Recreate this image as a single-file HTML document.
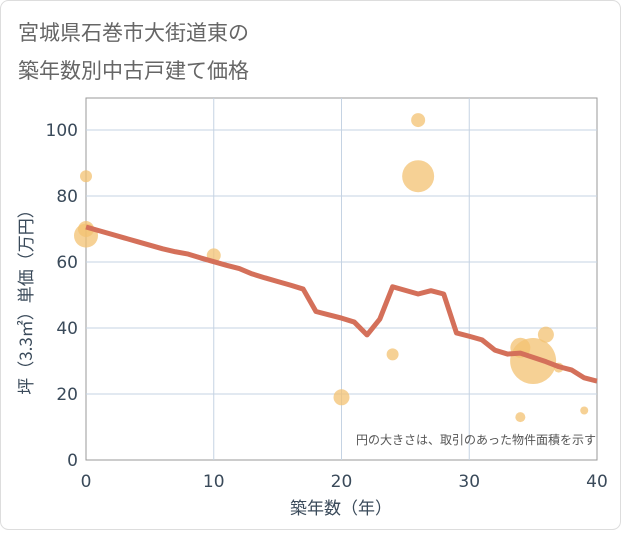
<!DOCTYPE html>
<html><head><meta charset="utf-8"><style>
body{margin:0;background:#fff;}
svg text{font-family:"DejaVu Sans","Noto Sans CJK JP",sans-serif;}
svg text.cjk{font-family:"Noto Sans CJK JP",sans-serif;}
</style></head><body>
<svg width="621" height="530" viewBox="0 0 621 530">
<rect x="0.5" y="0.5" width="620" height="529" rx="8" fill="#fff" stroke="#ddd"/>
<text class="cjk" x="18" y="40" font-size="21" fill="#666">宮城県石巻市大街道東の</text>
<text class="cjk" x="18" y="78" font-size="21" fill="#666">築年数別中古戸建て価格</text>
<rect x="86" y="98" width="511" height="362" fill="#fff" stroke="#999"/>
<g id="grid"></g>
<g id="bubbles"></g>
<g id="line"></g>
<g id="ticks"></g>
<text class="cjk" x="596" y="444" font-size="12" fill="#555" text-anchor="end">円の大きさは、取引のあった物件面積を示す</text>
<text class="cjk" x="341" y="514" font-size="17" fill="#3a4a5a" text-anchor="middle">築年数（年）</text>
<text class="cjk" transform="translate(32,298) rotate(-90)" font-size="17" fill="#3a4a5a" text-anchor="middle">坪（3.3㎡）単価（万円）</text>
</svg>
<script>
const xTicks=[0,10,20,30,40];
const yTicks=[0,20,40,60,80,100];
const lineYears=[0,1,2,3,4,5,6,7,8,9,10,11,12,13,14,15,16,17,18,19,20,21,22,23,24,25,26,27,28,29,30,31,32,33,34,35,36,37,38,39,40];
const lineValues=[70.6,69.5,68.4,67.3,66.2,65.1,64.0,63.1,62.4,61.2,60.1,59.0,58.0,56.4,55.2,54.1,53.0,51.8,45.0,44.0,43.0,41.8,37.9,42.7,52.5,51.4,50.3,51.3,50.3,38.5,37.5,36.4,33.3,32.1,32.4,31.1,29.8,28.3,27.3,24.9,23.9];
const bubbleYears=[0,0,0,10,26,26,20,24,34,35,36,34,39,37];
const bubbleValues=[86,68,70,62,103,86,19,32,34,30,38,13,15,28];
const bubbleSizes=[6,12,8,7,7,16,8,6,10,23,8,5,4,5];
const NS="http://www.w3.org/2000/svg";
const X=v=>86+v*(511/40);
const Y=v=>460-v*3.3;
function mk(t,a){const e=document.createElementNS(NS,t);for(const k in a)e.setAttribute(k,a[k]);return e;}
const grid=document.getElementById('grid'),ticks=document.getElementById('ticks');
xTicks.forEach(t=>{
 if(t>0&&t<40){const l=mk('line',{x1:X(t),x2:X(t),y1:98,y2:460,stroke:'#c5d3e3'});
 
 grid.appendChild(l);}
 const tx=mk('text',{x:X(t),y:487,'font-size':17,fill:'#3a4a5a','text-anchor':'middle'});tx.textContent=t;
 
 ticks.appendChild(tx);
});
yTicks.forEach(t=>{
 if(t>0){const l=mk('line',{x1:86,x2:597,y1:Y(t),y2:Y(t),stroke:'#c5d3e3'});
 
 grid.appendChild(l);}
 const tx=mk('text',{x:78,y:Y(t)+6,'font-size':17,fill:'#3a4a5a','text-anchor':'end'});tx.textContent=t;
 
 ticks.appendChild(tx);
});
const bg=document.getElementById('bubbles');
bubbleYears.forEach((yr,i)=>{
 const c=mk('circle',{cx:X(yr),cy:Y(bubbleValues[i]),r:bubbleSizes[i],fill:'#f3c272','fill-opacity':0.75});
 
 bg.appendChild(c);
});
const p=mk('polyline',{points:lineYears.map((yr,i)=>X(yr)+','+Y(lineValues[i])).join(' '),fill:'none',stroke:'#d4705a','stroke-width':5,'stroke-linejoin':'round'});


document.getElementById('line').appendChild(p);
</script>
</body></html>
